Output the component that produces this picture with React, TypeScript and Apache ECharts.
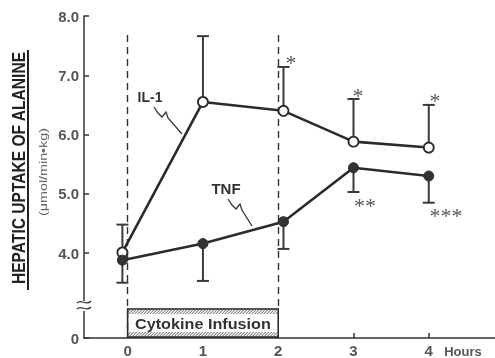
import React, { useEffect, useRef } from "react";
import * as echarts from "echarts";

// ---- data ----
const timePoints = [-0.07, 1, 2.07, 3, 4];
const il1Mean = [4.01, 6.55, 6.4, 5.88, 5.78];
const il1Upper = [4.48, 7.66, 7.14, 6.6, 6.5];
const tnfMean = [3.88, 4.16, 4.53, 5.44, 5.3];
const tnfLower = [3.5, 3.53, 4.07, 5.03, 4.85];
const xTickValues = [0, 1, 2, 3, 4];
const yTickValues = [4, 5, 6, 7, 8];
const infusionStart = 0;
const infusionEnd = 2;
const infusionLabel = "Cytokine Infusion";
const yBreakMin = 2.567; // broken axis: bottom of axis is labelled "0"

const FONT = "Liberation Sans, Arial, sans-serif";
const INK = "#2b2b2b";
const GRAY = "#555";

export default function App() {
  const ref = useRef<HTMLDivElement>(null);
  useEffect(() => {
    if (!ref.current) return;
    const chart = echarts.init(ref.current, null, { renderer: "svg" });

    const errData = (means: number[], ends: number[]) =>
      timePoints.map((t, i) => [t, means[i], ends[i]]);

    const errRender = (params: any, api: any) => {
      const p0 = api.coord([api.value(0), api.value(1)]);
      const p1 = api.coord([api.value(0), api.value(2)]);
      const st = { stroke: "#3a3a3a", lineWidth: 2 };
      return {
        type: "group",
        children: [
          { type: "line", shape: { x1: p0[0], y1: p0[1], x2: p1[0], y2: p1[1] }, style: st },
          { type: "line", shape: { x1: p1[0] - 6, y1: p1[1], x2: p1[0] + 6, y2: p1[1] }, style: st },
        ],
      };
    };

    const boxRender = (params: any, api: any) => {
      const a = api.coord([api.value(0), yBreakMin]);
      const b = api.coord([api.value(1), yBreakMin]);
      const x0 = a[0];
      const x1 = b[0];
      const yb = a[1] - 1;
      const yt = yb - 28;
      const band = 5;
      const hatch: any[] = [];
      const hs = { stroke: "#444", lineWidth: 0.9 };
      for (let x = x0 - band; x < x1; x += 3) {
        const segs = [
          [yt + band, yt],
          [yb, yb - band],
        ];
        for (const [ylo, yhi] of segs) {
          let sx1 = x, sy1 = ylo, sx2 = x + band, sy2 = yhi;
          if (sx1 < x0) { sy1 = ylo - (x0 - sx1); sx1 = x0; }
          if (sx2 > x1) { sy2 = yhi + (sx2 - x1); sx2 = x1; }
          if (sx2 > sx1) hatch.push({ type: "line", shape: { x1: sx1, y1: sy1, x2: sx2, y2: sy2 }, style: hs });
        }
      }
      return {
        type: "group",
        children: [
          { type: "rect", shape: { x: x0, y: yt, width: x1 - x0, height: yb - yt }, style: { fill: "#fff", stroke: "#222", lineWidth: 1.5 } },
          ...hatch,
          {
            type: "text",
            x: (x0 + x1) / 2,
            y: (yt + yb) / 2 + 1,
            scaleX: 1.08,
            style: { text: infusionLabel, fontFamily: FONT, fontSize: 15, fontWeight: "bold", fill: "#333", align: "center", verticalAlign: "middle" },
          },
        ],
      };
    };

    const option: any = {
      animation: false,
      grid: { left: 84, right: 0, top: 16, bottom: 20 },
      xAxis: {
        type: "value",
        min: -0.58,
        max: 4.88,
        splitLine: { show: false },
        axisLine: { onZero: false, lineStyle: { color: "#333", width: 1.5 } },
        axisTick: { inside: true, length: 5, customValues: xTickValues, lineStyle: { color: "#333", width: 1.5 } },
        axisLabel: { customValues: xTickValues, margin: 5, fontFamily: FONT, fontSize: 15, fontWeight: "bold", color: GRAY },
      },
      yAxis: {
        type: "value",
        min: yBreakMin,
        max: 8,
        splitLine: { show: false },
        axisLine: { show: true, onZero: false, lineStyle: { color: "#333", width: 1.5 } },
        axisTick: { inside: true, length: 5, customValues: [yBreakMin, ...yTickValues], lineStyle: { color: "#333", width: 1.5 } },
        axisLabel: {
          customValues: [yBreakMin, ...yTickValues],
          margin: 5,
          fontFamily: FONT,
          fontSize: 15,
          fontWeight: "bold",
          color: GRAY,
          formatter: (v: number) => (v < 3 ? "0" : v.toFixed(1)),
        },
      },
      series: [
        {
          type: "custom",
          renderItem: boxRender,
          data: [[infusionStart, infusionEnd]],
          z: 1,
          silent: true,
        },
        {
          type: "custom",
          renderItem: errRender,
          data: errData(il1Mean, il1Upper),
          z: 2,
        },
        {
          type: "custom",
          renderItem: errRender,
          data: errData(tnfMean, tnfLower),
          z: 2,
        },
        {
          name: "IL-1",
          type: "line",
          data: timePoints.map((t, i) => [t, il1Mean[i]]),
          symbol: "circle",
          symbolSize: 10,
          lineStyle: { color: INK, width: 2.6 },
          itemStyle: { color: "#fff", borderColor: INK, borderWidth: 1.8 },
          z: 5,
          markLine: {
            silent: true,
            symbol: "none",
            label: { show: false },
            lineStyle: { color: "#333", width: 1.4, type: [7, 5] },
            data: [
              [{ coord: [infusionStart, 7.68] }, { coord: [infusionStart, yBreakMin] }],
              [{ coord: [infusionEnd, 7.68] }, { coord: [infusionEnd, 3.06] }],
            ],
          },
        },
        {
          name: "TNF",
          type: "line",
          data: timePoints.map((t, i) => [t, tnfMean[i]]),
          symbol: "circle",
          symbolSize: 10,
          lineStyle: { color: INK, width: 2.6 },
          itemStyle: { color: "#333", borderColor: INK, borderWidth: 1 },
          z: 5,
        },
      ],
      graphic: [
        // y-axis title (underlined)
        {
          type: "text",
          x: 18,
          y: 168,
          rotation: Math.PI / 2,
          scaleX: 0.82,
          style: { text: "HEPATIC UPTAKE OF ALANINE", fontFamily: FONT, fontSize: 19, fontWeight: "bold", fill: "#222", align: "center", verticalAlign: "middle" },
          z: 100,
        },
        { type: "line", shape: { x1: 28, y1: 50, x2: 28, y2: 290 }, style: { stroke: "#222", lineWidth: 2 }, z: 100 },
        {
          type: "text",
          x: 43,
          y: 172,
          rotation: Math.PI / 2,
          scaleX: 1.3,
          style: { text: "(\u03bcmol/min\u2022kg)", fontFamily: FONT, fontSize: 11, fill: "#666", align: "center", verticalAlign: "middle" },
          z: 100,
        },
        // axis break
        { type: "rect", shape: { x: 80, y: 301, width: 8, height: 10 }, style: { fill: "#fff" }, z: 100 },
        { type: "bezierCurve", shape: { x1: 77, y1: 303, cpx1: 81, cpy1: 298, cpx2: 86, cpy2: 307, x2: 91, y2: 301 }, style: { stroke: "#333", lineWidth: 1.3, fill: null }, z: 101 },
        { type: "bezierCurve", shape: { x1: 77, y1: 309, cpx1: 81, cpy1: 304, cpx2: 86, cpy2: 313, x2: 91, y2: 307 }, style: { stroke: "#333", lineWidth: 1.3, fill: null }, z: 101 },
        // "Hours"
        { type: "text", x: 463, y: 351, style: { text: "Hours", fontFamily: FONT, fontSize: 13, fontWeight: "bold", fill: GRAY, align: "center", verticalAlign: "middle" }, z: 100 },
        // series labels + squiggles
        { type: "text", x: 150, y: 97, style: { text: "IL-1", fontFamily: FONT, fontSize: 14, fontWeight: "bold", fill: "#333", align: "center", verticalAlign: "middle" }, z: 100 },
        { type: "polyline", shape: { points: [[154, 107], [158, 113], [162, 117], [166, 112], [168, 118], [182, 134]] }, style: { stroke: "#333", lineWidth: 1.3, fill: null }, z: 100 },
        { type: "text", x: 226, y: 188, style: { text: "TNF", fontFamily: FONT, fontSize: 15, fontWeight: "bold", fill: "#333", align: "center", verticalAlign: "middle" }, z: 100 },
        { type: "polyline", shape: { points: [[228, 199], [232, 205], [236, 209], [240, 204], [242, 210], [252, 226]] }, style: { stroke: "#333", lineWidth: 1.3, fill: null }, z: 100 },
        // significance marks
        ...[
          ["*", 291, 62],
          ["*", 358, 95],
          ["*", 435, 100],
          ["**", 365, 205],
          ["***", 446, 215],
        ].map(([t, x, y]) => ({
          type: "text",
          x: x as number,
          y: y as number,
          style: { text: t as string, fontFamily: "Liberation Serif, Times New Roman, serif", fontSize: 22, fill: "#555", align: "center", verticalAlign: "middle" },
          z: 100,
        })),
      ],
    };
    chart.setOption(option);
    return () => chart.dispose();
  }, []);
  return <div ref={ref} style={{ position: "fixed", left: 0, top: 0, width: 495, height: 358 }} />;
}
